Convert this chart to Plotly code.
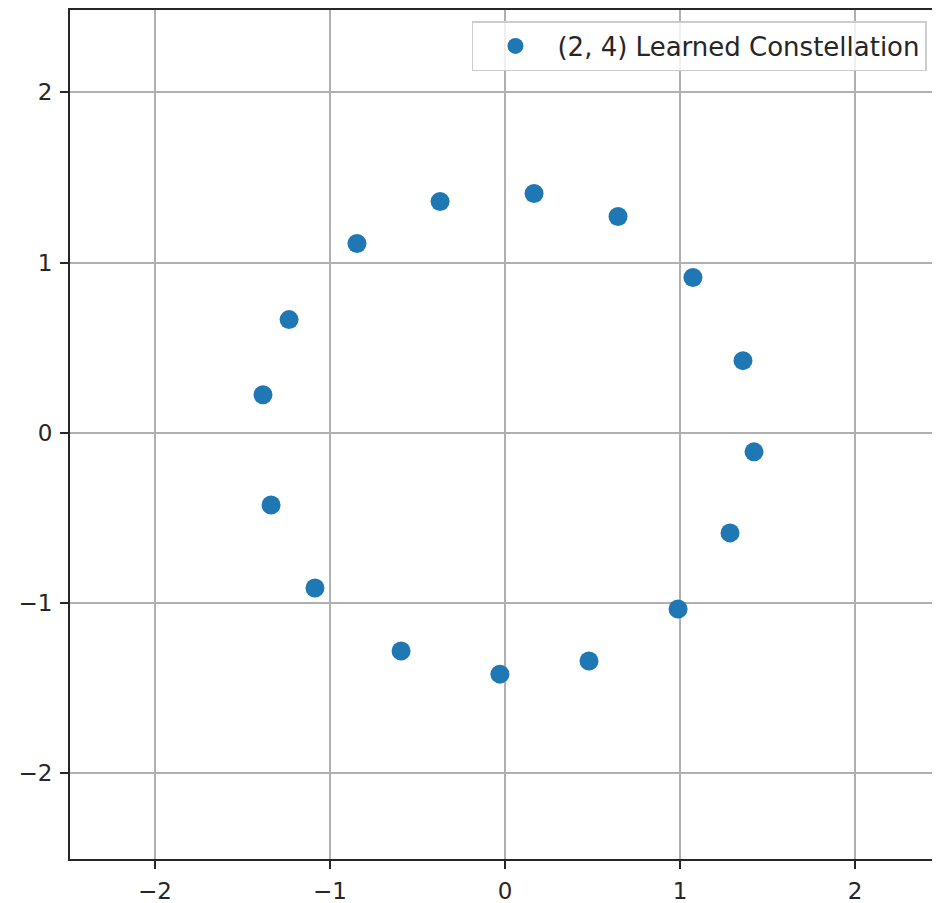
import plotly.graph_objects as go

x_vals = [-1.383, -1.234, -0.846, -0.371, 0.166, 0.646, 1.074, 1.360,
          1.423, 1.286, 0.989, 0.480, -0.029, -0.594, -1.086, -1.337]
y_vals = [0.224, 0.665, 1.112, 1.359, 1.406, 1.271, 0.912, 0.424,
          -0.112, -0.588, -1.035, -1.341, -1.418, -1.282, -0.912, -0.424]
series_name = "(2, 4) Learned Constellation"
tick_vals = [-2, -1, 0, 1, 2]

fig = go.Figure()
fig.add_trace(go.Scatter(
    x=x_vals, y=y_vals, mode="markers", name=series_name,
    marker=dict(color="#1f77b4", size=19, line=dict(width=0)),
    showlegend=True,
))

axis_common = dict(
    showgrid=True, gridcolor="#b0b0b0", gridwidth=1.6,
    zeroline=False, showline=True, linecolor="#262626", linewidth=2,
    ticks="outside", ticklen=8, tickwidth=1.6, tickcolor="#262626",
    tickfont=dict(family="DejaVu Sans", size=23, color="#262626"),
    tickvals=tick_vals, automargin=False,
)

fig.update_layout(
    width=932, height=895,
    margin=dict(l=62, r=0, t=2, b=44),
    plot_bgcolor="white", paper_bgcolor="white",
    xaxis=dict(range=[-2.486, 2.486], mirror=True, ticklabelstandoff=2,
               **axis_common),
    yaxis=dict(range=[-2.504, 2.484], ticklabelstandoff=3, **axis_common),
    legend=dict(
        x=0.985, y=0.987, xanchor="right", yanchor="top",
        bgcolor="rgba(255,255,255,0.8)", bordercolor="#cccccc", borderwidth=1.5,
        font=dict(family="DejaVu Sans", size=26, color="#262626"),
        itemwidth=74,
    ),
    showlegend=True,
)

fig.write_html("out.html")
